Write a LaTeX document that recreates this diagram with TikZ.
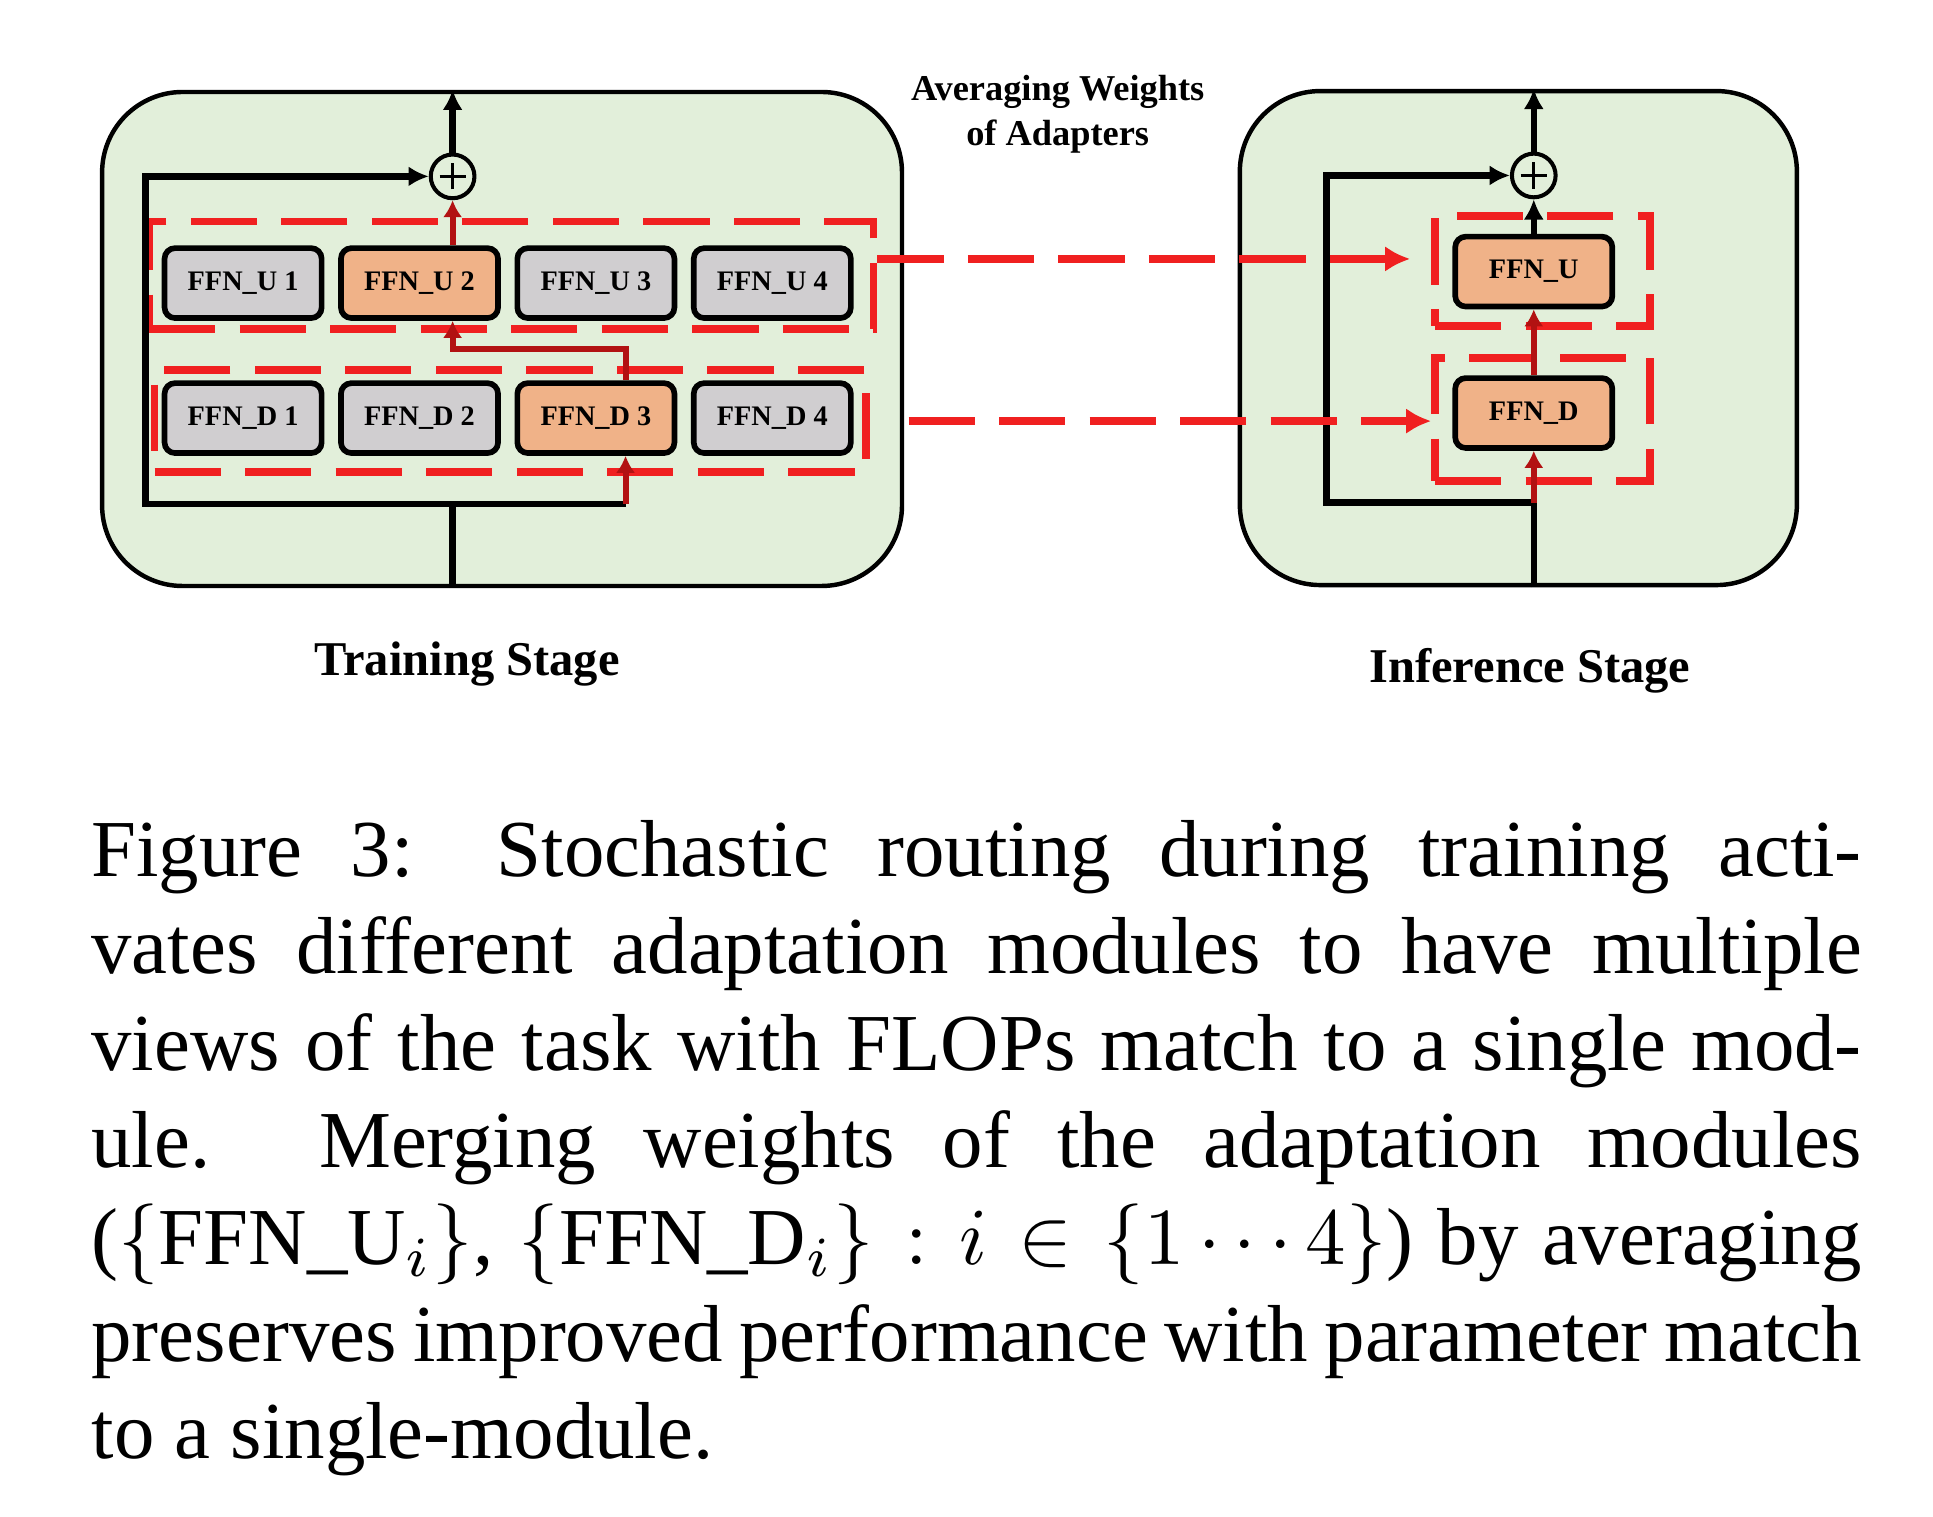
\documentclass[tikz,border=0pt]{standalone}
\usepackage{fontspec}
\setmainfont{Liberation Serif}
\usepackage{amsmath}
\usepackage{xcolor}
\definecolor{blockGreen}{RGB}{226,239,218}
\definecolor{ffnGray}{RGB}{208,206,208}
\definecolor{ffnOrange}{RGB}{240,178,136}
\definecolor{dashRed}{RGB}{240,32,32}
\definecolor{routeRed}{RGB}{178,18,18}
\usepackage{tikz}
\usetikzlibrary{arrows.meta,positioning,calc}
\tikzstyle{stagebox}=[rectangle, draw=black, line width=0.55pt, fill=blockGreen, rounded corners=0.35cm]
\tikzstyle{ffnoff}=[rectangle, draw=black, line width=0.7pt, fill=ffnGray, rounded corners=1.3pt, minimum width=0.683cm, minimum height=0.304cm, inner sep=0pt, font=\fontsize{3.5}{4}\selectfont\bfseries]
\tikzstyle{ffnon}=[ffnoff, fill=ffnOrange]
\tikzstyle{addnode}=[circle, draw=black, line width=0.5pt, minimum size=0.19cm, inner sep=0pt,
  path picture={\draw[line width=0.4pt] ([xshift=-0.057cm]path picture bounding box.center) -- ([xshift=0.057cm]path picture bounding box.center)
    ([yshift=-0.057cm]path picture bounding box.center) -- ([yshift=0.057cm]path picture bounding box.center);}]
\tikzstyle{groupbox}=[rectangle, draw=dashRed, line width=0.95pt, dash pattern=on 8.2pt off 3pt, inner sep=0pt]
\tikzstyle{mainline}=[draw=black, line width=0.8pt]
\tikzstyle{mainarrow}=[mainline, -{Latex[length=2.5pt,width=2.5pt]}]
\tikzstyle{routearrow}=[draw=routeRed, line width=0.75pt, -{Latex[length=2.1pt,width=2.4pt]}]
\tikzstyle{mergearrow}=[draw=dashRed, line width=0.95pt, dash pattern=on 8.2pt off 3pt, -{Latex[length=3.1pt,width=3.2pt]}]
\tikzstyle{stagelabel}=[font=\fontsize{6}{7}\selectfont\bfseries, inner sep=0pt]

\begin{document}
\begin{tikzpicture}
    \useasboundingbox (0,0) rectangle (8.405,6.592);

    % Blocos
    \node[stagebox, minimum width=3.478cm, minimum height=2.148cm] (boxT) at (2.183,5.118) {};
    \node[stagebox, minimum width=2.422cm, minimum height=2.148cm] (boxI) at (6.602,5.122) {};

    % Treino: adaptadores
    \node[ffnoff] (uT1) at (1.057,5.361) {FFN\_U 1};
    \node[ffnon]  (uT2) at (1.824,5.361) {FFN\_U 2};
    \node[ffnoff] (uT3) at (2.591,5.361) {FFN\_U 3};
    \node[ffnoff] (uT4) at (3.358,5.361) {FFN\_U 4};
    \node[ffnoff] (dT1) at (1.057,4.774) {FFN\_D 1};
    \node[ffnoff] (dT2) at (1.824,4.774) {FFN\_D 2};
    \node[ffnon]  (dT3) at (2.591,4.774) {FFN\_D 3};
    \node[ffnoff] (dT4) at (3.358,4.774) {FFN\_D 4};
    \node[groupbox, minimum width=3.150cm, minimum height=0.467cm] (grpU) at (2.223,5.396) {};
    \node[groupbox, minimum width=3.092cm, minimum height=0.444cm] (grpD) at (2.218,4.761) {};
    \node[addnode] (addT) at (1.968,5.825) {};

    % Inferência: adaptadores
    \node[ffnon] (uI) at (6.669,5.411) {FFN\_U};
    \node[ffnon] (dI) at (6.669,4.796) {FFN\_D};
    \node[groupbox, minimum width=0.935cm, minimum height=0.480cm] (grpUI) at (6.707,5.414) {};
    \node[groupbox, minimum width=0.935cm, minimum height=0.535cm] (grpDI) at (6.707,4.768) {};
    \node[addnode] (addI) at (6.669,5.829) {};

    % Pontos de ligação
    \coordinate (jT) at (1.968,4.400);
    \coordinate (skipT) at (0.633,4.400);
    \coordinate (jT2) at (2.720,4.400);
    \coordinate (jI) at (6.669,4.407);
    \coordinate (skipI) at (5.767,4.407);

    % Setas do treino
    \draw[mainline] (boxT.south -| jT) -- (jT);
    \draw[mainarrow] (jT) -- (skipT) |- (addT.west);
    \draw[mainline] (jT) -- (jT2);
    \draw[routearrow] (jT2) -- (jT2 |- dT3.south);
    \draw[routearrow] (jT2 |- dT3.north) -- ++(0,0.135) -| (addT |- uT2.south);
    \draw[routearrow] (addT |- uT2.north) -- (addT.south);
    \draw[mainarrow] (addT.north) -- (addT |- boxT.north);

    % Setas da inferência
    \draw[mainline] (boxI.south -| jI) -- (jI);
    \draw[mainarrow] (jI) -- (skipI) |- (addI.west);
    \draw[routearrow] (jI) -- (dI.south);
    \draw[routearrow] (dI.north) -- (uI.south);
    \draw[mainarrow] (uI.north) -- (addI.south);
    \draw[mainarrow] (addI.north) -- (addI |- boxI.north);

    % Média dos pesos
    \draw[mergearrow, shorten >=2.6pt] ([yshift=0.07cm]grpU.east) -- ([yshift=0.07cm]grpU.east -| grpUI.west);
    \draw[mergearrow, shorten <=0.17cm] (grpD.east) -- (grpD.east -| grpDI.west);

    % Rótulos
    \node[font=\fontsize{4.5}{5.6}\selectfont\bfseries, align=center, inner sep=0pt] (avg) at (4.599,6.096)
      {Averaging Weights\\of Adapters};
    \node[stagelabel, anchor=base] (trainLbl) at (2.031,3.654) {Training Stage};
    \node[stagelabel, anchor=base] (inferLbl) at (6.652,3.626) {Inference Stage};

    % Legenda
    \node[anchor=north west, inner sep=0pt, text width=219pt, align=justify,
      font=\fontsize{10}{12}\selectfont] (caption) at (0.391,3.083)
      {\strut Figure 3: Stochastic routing during training acti-\linebreak
       vates different adaptation modules to have multiple\linebreak
       views of the task with FLOPs match to a single mod-\linebreak
       ule. Merging weights of the adaptation modules\linebreak
       ($\{$FFN\_U$_i\}$, $\{$FFN\_D$_i\} : i \in \{1 \cdots 4\}$) by averaging\linebreak
       preserves improved performance with parameter match\linebreak
       to a single-module.};
\end{tikzpicture}
\end{document}
